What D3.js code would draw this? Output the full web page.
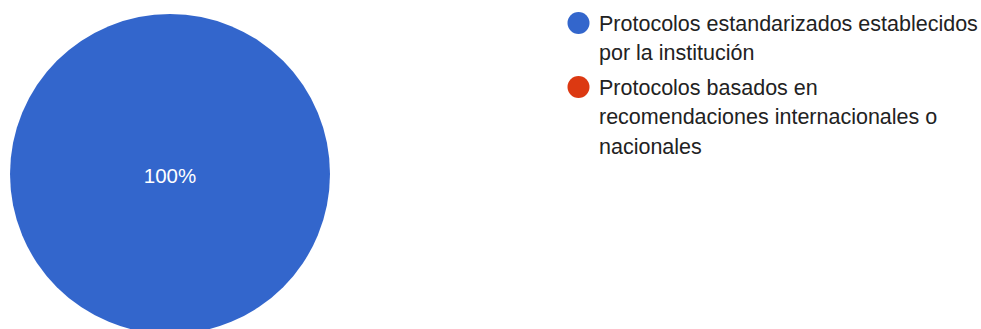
<!DOCTYPE html>
<html>
<head>
<meta charset="utf-8">
<script src="https://cdn.jsdelivr.net/npm/d3@7"></script>
<style>
  html, body { margin: 0; padding: 0; background: #fff; }
  svg { display: block; }
</style>
</head>
<body>
<svg id="chart" width="981" height="329"></svg>
<script>
const categories = [
  "Protocolos estandarizados establecidos por la institución",
  "Protocolos basados en recomendaciones internacionales o nacionales"
];
const values = [100, 0];
const colors = ["#3366CC", "#DC3912"];

const W = 981, H = 329;
const svg = d3.select("#chart");
const cx = 170, cy = 174, R = 160;
const font = "Arial, 'Liberation Sans', sans-serif";

const data = categories.map((c, i) => ({ name: c, value: values[i], color: colors[i] }));
const total = d3.sum(values);
const pie = d3.pie().sort(null).value(d => d.value);
const arc = d3.arc().innerRadius(0).outerRadius(R);
const arcs = pie(data);

const g = svg.append("g").attr("transform", `translate(${cx},${cy})`);
g.selectAll("path.slice")
  .data(arcs.filter(a => a.data.value > 0))
  .join("path")
  .attr("class", "slice")
  .attr("d", arc)
  .attr("fill", d => d.data.color)
  .attr("stroke", "#fff")
  .attr("stroke-width", d => (d.data.value === total ? 0 : 1));

const labelArc = d3.arc().innerRadius(0).outerRadius(R * 1.2);
g.selectAll("text.pct")
  .data(arcs.filter(a => a.data.value > 0))
  .join("text")
  .attr("class", "pct")
  .attr("transform", d => d.data.value === total ? "translate(0,0)" : `translate(${labelArc.centroid(d)})`)
  .attr("text-anchor", "middle")
  .attr("dy", "8.5")
  .attr("fill", "#fff")
  .style("font-family", font)
  .style("font-size", "20.5px")
  .text(d => Math.round(d.data.value / total * 100) + "%");

// Legend
const legX = 578.5, textX = 599, fontSize = 21.5, lineH = 29.3, groupGap = 5.4;
const maxW = 380;
const leg = svg.append("g");
let y = 23;
data.forEach((d, i) => {
  leg.append("circle").attr("cx", legX).attr("cy", y).attr("r", 11).attr("fill", d.color);
  const t = leg.append("text")
    .attr("x", textX)
    .attr("fill", "#222")
    .style("font-family", font)
    .style("font-size", fontSize + "px");
  const words = d.name.split(" ");
  let line = [];
  let lines = [];
  let ts = t.append("tspan").attr("x", textX);
  words.forEach(w => {
    line.push(w);
    ts.text(line.join(" "));
    if (ts.node().getComputedTextLength() > maxW && line.length > 1) {
      line.pop();
      lines.push(line.join(" "));
      line = [w];
      ts.text(w);
    }
  });
  lines.push(line.join(" "));
  t.selectAll("tspan").remove();
  lines.forEach((l, k) => {
    t.append("tspan").attr("x", textX).attr("y", y + 8 + k * lineH).text(l);
  });
  y += lines.length * lineH + groupGap;
});
</script>
</body>
</html>
